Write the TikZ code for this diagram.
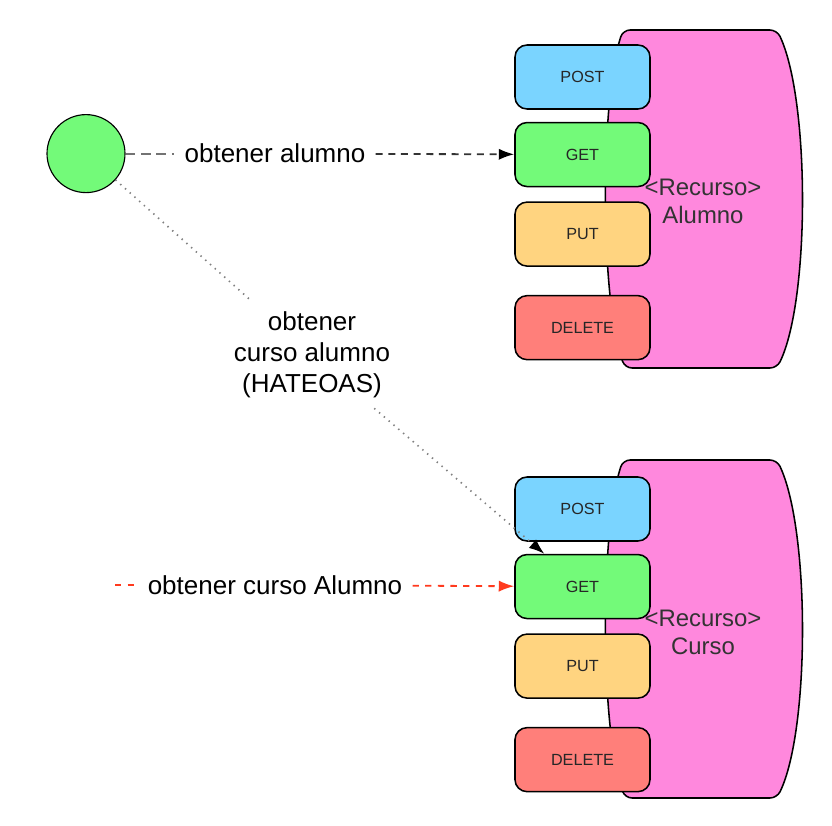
\documentclass[tikz,border=0pt]{standalone}
\usepackage{fontspec}
\setmainfont{Liberation Sans}
\usetikzlibrary{arrows.meta,positioning}

\definecolor{postblue}{HTML}{7AD4FF}
\definecolor{getgreen}{HTML}{73FA79}
\definecolor{putorange}{HTML}{FFD480}
\definecolor{delred}{HTML}{FF7F7A}
\definecolor{recpink}{HTML}{FF88DD}
\definecolor{flechared}{HTML}{FF3A1E}

\tikzset{
  metodo/.style={draw,rounded corners=0.3cm,line width=1.1pt,minimum width=3.375cm,
    minimum height=1.6cm,text=black!85,font=\fontsize{11.5}{14}\selectfont},
  recurso/.style={draw,line width=1.1pt,fill=recpink,rounded corners=5pt},
  etiqueta/.style={fill=white,align=center,inner sep=0.25cm,font=\fontsize{18.5}{22}\selectfont},
  punta/.style={-{Latex[length=11pt,width=8pt,color=black]}}
}

\begin{document}
\begin{tikzpicture}
      \useasboundingbox (0,0) rectangle (20.8,-20.625);
      % recursos
      \draw[recurso] (17.5,-0.75) -- (19.425,-0.75) .. controls (20.25,-2.5) and (20.25,-7.5) .. (19.425,-9.2)
        -- (15.625,-9.2) .. controls (15.0,-7.5) and (15.0,-2.5) .. (15.575,-0.75) -- cycle;
      \draw[recurso] (17.5,-11.5) -- (19.425,-11.5) .. controls (20.25,-13.25) and (20.25,-18.25) .. (19.425,-19.95)
        -- (15.625,-19.95) .. controls (15.0,-18.25) and (15.0,-13.25) .. (15.575,-11.5) -- cycle;
      \node[align=center,text=black!80,font=\fontsize{17}{20}\selectfont] (recAlumno) at (17.575,-5.025) {<Recurso>\\Alumno};
      \node[align=center,text=black!80,font=\fontsize{17}{20}\selectfont] (recCurso) at (17.575,-15.8) {<Recurso>\\Curso};
      % metodos Alumno
      \node[metodo,fill=postblue] (postA) at (14.5625,-1.925) {POST};
      \node[metodo,fill=getgreen,below=0.3cm of postA] (getA) {GET};
      \node[metodo,fill=putorange,below=0.35cm of getA] (putA) {PUT};
      \node[metodo,fill=delred,below=0.7cm of putA] (deleteA) {DELETE};
      % metodos Curso
      \node[metodo,fill=postblue] (postB) at (14.5625,-12.725) {POST};
      \node[metodo,fill=getgreen,below=0.3cm of postB] (getB) {GET};
      \node[metodo,fill=putorange,below=0.35cm of getB] (putB) {PUT};
      \node[metodo,fill=delred,below=0.7cm of putB] (deleteB) {DELETE};
      % cliente
      \node[circle,draw,fill=getgreen,minimum size=1.95cm,line width=0.8pt] (cliente) at (2.15,-3.84) {};
      % obtener alumno
      \node[etiqueta] (lblAlumno) at (6.875,-3.84) {obtener alumno};
      \draw[black!55,line width=1.5pt,dash pattern=on 7pt off 4pt] (cliente) -- (lblAlumno);
      \draw[black!80,line width=1.3pt,dash pattern=on 5pt off 4pt,punta] (lblAlumno) -- (getA);
      % HATEOAS
      \node[etiqueta] (lblHateoas) at (7.8,-8.875) {obtener\\curso alumno\\(HATEOAS)};
      \draw[gray,line width=1.2pt,dash pattern=on 1pt off 3.5pt] (cliente) -- (lblHateoas);
      \draw[gray,line width=1.2pt,dash pattern=on 1pt off 3.5pt,punta] (lblHateoas) -- (getB);
      % obtener curso Alumno
      \coordinate (inicioCurso) at (2.875,-14.625);
      \node[etiqueta] (lblCurso) at (6.875,-14.625) {obtener curso Alumno};
      \draw[flechared,line width=1.3pt,dash pattern=on 4.5pt off 4.5pt] (inicioCurso) -- (lblCurso);
      \draw[flechared,line width=1.3pt,dash pattern=on 4.5pt off 4.5pt,-{Latex[length=11pt,width=8pt]}] (lblCurso) -- (getB);
    \end{tikzpicture}
\end{document}
